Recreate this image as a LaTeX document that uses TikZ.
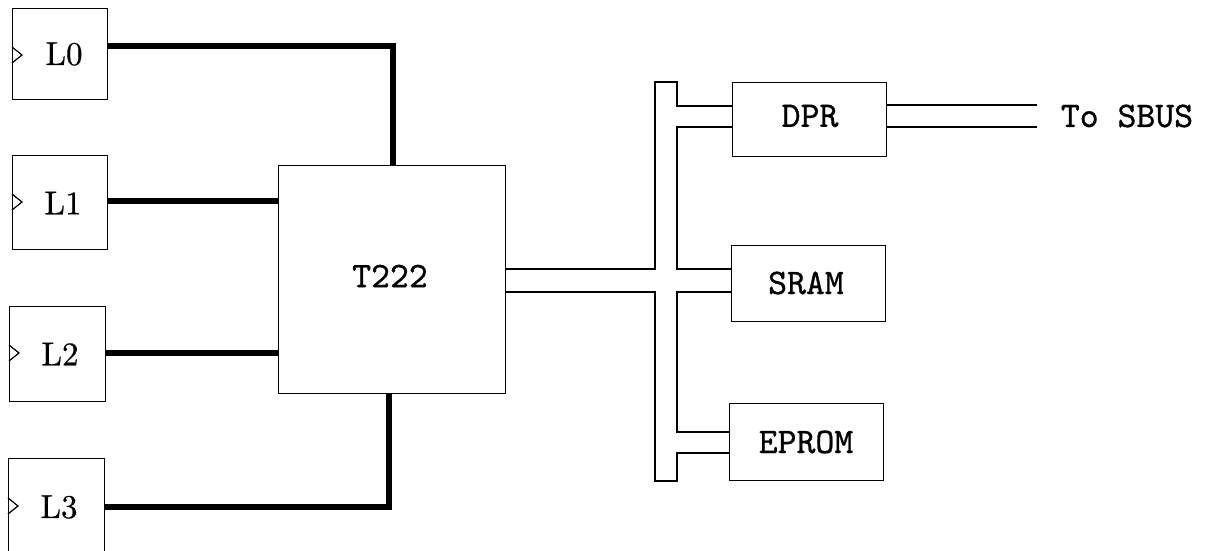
\documentclass[tikz,border=0pt]{standalone}
\usepackage{fontspec}
\newfontfamily\tyfont{lmmono10-regular.otf}[FakeBold=0.8]
\newfontfamily\lkfont{lmroman10-regular.otf}[FakeBold=0.6]
\begin{document}
\begin{tikzpicture}[x=1pt,y=-1pt,
  blk/.style={draw, line width=1.4pt, rectangle, inner sep=0pt, anchor=north west},
  lbl/.style={font=\fontsize{33}{36}\lkfont},
  ttl/.style={font=\fontsize{36}{40}\tyfont},
  thickbus/.style={line width=6pt, line join=miter},
  thinbus/.style={line width=1.6pt, line join=miter},
  clk/.style={line width=1.2pt, line join=miter}]
\useasboundingbox (0,0) rectangle (1211,551);
\clip (0,0) rectangle (1211,551);
% link boxes
\node[blk, minimum width=95pt, minimum height=91pt] (L0) at (12,8) {};
\node[lbl] (L0t) at (64,54) {L0};
\node[blk, minimum width=95pt, minimum height=94pt] (L1) at (12,155) {};
\node[lbl] (L1t) at (63,203) {L1};
\node[blk, minimum width=96pt, minimum height=95pt] (L2) at (9,306) {};
\node[lbl] (L2t) at (60,354) {L2};
\node[blk, minimum width=96pt, minimum height=110pt] (L3) at (8,458) {};
\node[lbl] (L3t) at (59,507) {L3};
% clock marks
\draw[clk] (L0.west |- 0,47) -- (22,55) -- (L0.west |- 0,63);
\draw[clk] (L1.west |- 0,194) -- (22,202) -- (L1.west |- 0,210);
\draw[clk] (L2.west |- 0,345) -- (19,353) -- (L2.west |- 0,361);
\draw[clk] (L3.west |- 0,498) -- (18,506) -- (L3.west |- 0,514);
% transputer
\node[blk, minimum width=227pt, minimum height=228pt] (T) at (278,165) {};
\node[ttl] (Tt) at (390,276) {T222};
% memories
\node[blk, minimum width=154pt, minimum height=74pt] (DPR) at (732,82) {};
\node[ttl] (DPRt) at (810,116) {DPR};
\node[blk, minimum width=154pt, minimum height=76pt] (SRAM) at (731,245) {};
\node[ttl] (SRAMt) at (806,283) {SRAM};
\node[blk, minimum width=154pt, minimum height=77pt] (EPROM) at (729,403) {};
\node[ttl] (EPROMt) at (806,442) {EPROM};
\node[ttl, inner sep=0pt] (sbus) at (1127,116) {To SBUS};
% link connections
\draw[thickbus] (L0.east |- 0,46) -| (T.north -| 393,0);
\draw[thickbus] (L1.east |- 0,201) -- (T.west |- 0,201);
\draw[thickbus] (L2.east |- 0,353) -- (T.west |- 0,353);
\draw[thickbus] (L3.east |- 0,507) -| (T.south -| 389,0);
% memory bus
\draw[thinbus] (T.east |- 0,269) -- (655,269) -- (655,82) -- (677,82) -- (677,106) -- (DPR.west |- 0,106);
\draw[thinbus] (DPR.west |- 0,127) -- (677,127) -- (677,269) -- (SRAM.west |- 0,269);
\draw[thinbus] (SRAM.west |- 0,292) -- (677,292) -- (677,432) -- (EPROM.west |- 0,432);
\draw[thinbus] (EPROM.west |- 0,453) -- (677,453) -- (677,481) -- (655,481) -- (655,292) -- (T.east |- 0,292);
% to SBUS
\draw[thinbus] (DPR.east |- 0,105) -- ([xshift=-24pt]sbus.west |- 0,105);
\draw[thinbus] (DPR.east |- 0,127) -- ([xshift=-24pt]sbus.west |- 0,127);
\end{tikzpicture}
\end{document}
